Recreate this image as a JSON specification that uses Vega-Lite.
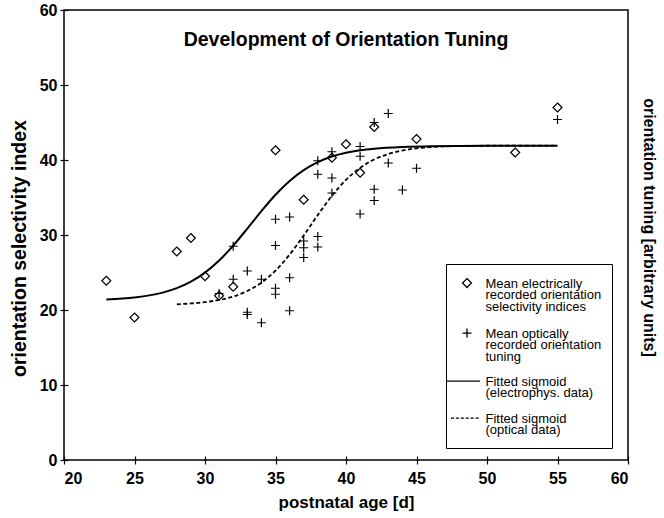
{
  "$schema": "https://vega.github.io/schema/vega-lite/v6.json",
  "width": 564,
  "height": 450,
  "autosize": {"type": "none"},
  "padding": {"left": 64, "top": 10, "right": 36, "bottom": 58},
  "background": "white",
  "title": {"text": "Development of Orientation Tuning", "font": "Liberation Sans", "fontSize": 19.5, "fontWeight": "bold", "color": "black", "anchor": "middle", "offset": -48},
  "datasets": {
    "points": [
      {"age": 23, "osi": 23.9, "series": "e"},
      {"age": 25, "osi": 19.0, "series": "e"},
      {"age": 28, "osi": 27.8, "series": "e"},
      {"age": 29, "osi": 29.6, "series": "e"},
      {"age": 30, "osi": 24.5, "series": "e"},
      {"age": 31, "osi": 21.9, "series": "e"},
      {"age": 32, "osi": 23.1, "series": "e"},
      {"age": 35, "osi": 41.3, "series": "e"},
      {"age": 37, "osi": 34.7, "series": "e"},
      {"age": 39, "osi": 40.3, "series": "e"},
      {"age": 40, "osi": 42.1, "series": "e"},
      {"age": 41, "osi": 38.3, "series": "e"},
      {"age": 42, "osi": 44.4, "series": "e"},
      {"age": 45, "osi": 42.8, "series": "e"},
      {"age": 52, "osi": 41.0, "series": "e"},
      {"age": 55, "osi": 47.0, "series": "e"},
      {"age": 31, "osi": 22.2, "series": "o"},
      {"age": 32, "osi": 28.5, "series": "o"},
      {"age": 32, "osi": 24.1, "series": "o"},
      {"age": 33, "osi": 25.2, "series": "o"},
      {"age": 33, "osi": 19.7, "series": "o"},
      {"age": 33, "osi": 19.4, "series": "o"},
      {"age": 34, "osi": 24.1, "series": "o"},
      {"age": 34, "osi": 18.3, "series": "o"},
      {"age": 35, "osi": 32.1, "series": "o"},
      {"age": 35, "osi": 28.6, "series": "o"},
      {"age": 35, "osi": 22.9, "series": "o"},
      {"age": 35, "osi": 22.1, "series": "o"},
      {"age": 36, "osi": 32.4, "series": "o"},
      {"age": 36, "osi": 24.3, "series": "o"},
      {"age": 36, "osi": 19.9, "series": "o"},
      {"age": 37, "osi": 29.2, "series": "o"},
      {"age": 37, "osi": 28.3, "series": "o"},
      {"age": 37, "osi": 27.0, "series": "o"},
      {"age": 38, "osi": 29.8, "series": "o"},
      {"age": 38, "osi": 28.4, "series": "o"},
      {"age": 38, "osi": 39.9, "series": "o"},
      {"age": 38, "osi": 38.1, "series": "o"},
      {"age": 39, "osi": 41.1, "series": "o"},
      {"age": 39, "osi": 37.6, "series": "o"},
      {"age": 39, "osi": 35.6, "series": "o"},
      {"age": 41, "osi": 41.8, "series": "o"},
      {"age": 41, "osi": 40.5, "series": "o"},
      {"age": 41, "osi": 32.8, "series": "o"},
      {"age": 42, "osi": 45.0, "series": "o"},
      {"age": 42, "osi": 36.1, "series": "o"},
      {"age": 42, "osi": 34.6, "series": "o"},
      {"age": 43, "osi": 46.2, "series": "o"},
      {"age": 43, "osi": 39.6, "series": "o"},
      {"age": 44, "osi": 36.0, "series": "o"},
      {"age": 45, "osi": 38.9, "series": "o"},
      {"age": 55, "osi": 45.4, "series": "o"}
    ],
    "fit_e": [
      {"age": 23, "osi": 21.39},
      {"age": 25, "osi": 21.67},
      {"age": 27, "osi": 22.32},
      {"age": 28, "osi": 22.91},
      {"age": 29, "osi": 23.77},
      {"age": 30, "osi": 24.98},
      {"age": 31, "osi": 26.59},
      {"age": 32, "osi": 28.59},
      {"age": 33, "osi": 30.85},
      {"age": 34, "osi": 33.18},
      {"age": 35, "osi": 35.36},
      {"age": 36, "osi": 37.21},
      {"age": 37, "osi": 38.65},
      {"age": 38, "osi": 39.72},
      {"age": 39, "osi": 40.46},
      {"age": 40, "osi": 40.96},
      {"age": 41, "osi": 41.3},
      {"age": 42, "osi": 41.51},
      {"age": 44, "osi": 41.74},
      {"age": 46, "osi": 41.84},
      {"age": 50, "osi": 41.89},
      {"age": 55, "osi": 41.9}
    ],
    "fit_o": [
      {"age": 28, "osi": 20.76},
      {"age": 29, "osi": 20.87},
      {"age": 30, "osi": 21.05},
      {"age": 31, "osi": 21.34},
      {"age": 32, "osi": 21.8},
      {"age": 33, "osi": 22.54},
      {"age": 34, "osi": 23.65},
      {"age": 35, "osi": 25.25},
      {"age": 36, "osi": 27.38},
      {"age": 37, "osi": 29.94},
      {"age": 38, "osi": 32.66},
      {"age": 39, "osi": 35.22},
      {"age": 40, "osi": 37.35},
      {"age": 41, "osi": 38.95},
      {"age": 42, "osi": 40.07},
      {"age": 43, "osi": 40.8},
      {"age": 44, "osi": 41.26},
      {"age": 45, "osi": 41.55},
      {"age": 46, "osi": 41.73},
      {"age": 48, "osi": 41.87},
      {"age": 50, "osi": 41.9},
      {"age": 55, "osi": 41.92}
    ]
  },
  "config": {
    "view": {"stroke": "black", "strokeWidth": 1.5},
    "style": {"guide-label": {"lineHeight": 11.7}},
    "axis": {
      "domain": false, "grid": false,
      "tickColor": "black", "tickWidth": 1.2,
      "labelColor": "black", "titleColor": "black",
      "labelFont": "Liberation Sans", "titleFont": "Liberation Sans",
      "labelFontWeight": "bold", "titleFontWeight": "bold",
      "labelFontSize": 16, "titleFontSize": 17
    }
  },
  "resolve": {"axis": {"y": "independent"}, "scale": {"shape": "independent"}},
  "layer": [
    {
      "data": {"name": "fit_e"},
      "mark": {"type": "line", "color": "black", "strokeWidth": 2, "interpolate": "monotone"},
      "encoding": {
        "x": {"field": "age", "type": "quantitative", "scale": {"domain": [20, 60], "nice": false},
          "axis": {"values": [20, 25, 30, 35, 40, 45, 50, 55, 60], "tickSize": 8, "offset": -4, "labelPadding": 6, "title": "postnatal age [d]", "titlePadding": 8}},
        "y": {"field": "osi", "type": "quantitative", "scale": {"domain": [0, 60], "nice": false},
          "axis": {"values": [0, 10, 20, 30, 40, 50, 60], "tickSize": 8, "offset": -4, "labelPadding": 3, "title": "orientation selectivity index", "titleFontSize": 19.5, "titlePadding": 10, "titleY": 238}}
      }
    },
    {
      "data": {"name": "fit_o"},
      "mark": {"type": "line", "color": "black", "strokeWidth": 1.8, "strokeDash": [4, 2.5], "interpolate": "monotone"},
      "encoding": {
        "x": {"field": "age", "type": "quantitative"},
        "y": {"field": "osi", "type": "quantitative", "axis": null}
      }
    },
    {
      "data": {"name": "points"},
      "mark": {"type": "point", "filled": false, "color": "black", "strokeWidth": 1.2, "size": 80, "opacity": 1},
      "encoding": {
        "x": {"field": "age", "type": "quantitative"},
        "y": {"field": "osi", "type": "quantitative",
          "axis": {"orient": "right", "labels": false, "ticks": false, "title": "orientation tuning [arbitrary units]", "titleAngle": 90, "titleFontSize": 16, "titlePadding": 12, "titleY": 217}},
        "shape": {"field": "series", "type": "nominal",
          "scale": {"domain": ["e", "o"], "range": ["M0,-1L1,0L0,1L-1,0Z", "M-1,0H1M0,-1V1"]},
          "legend": null}
      }
    },
    {
      "data": {"name": "points"},
      "transform": [{"filter": "datum.age > 100"}],
      "mark": {"type": "point", "filled": false, "color": "black", "strokeWidth": 1.2, "size": 80, "opacity": 1},
      "encoding": {
        "x": {"field": "age", "type": "quantitative"},
        "y": {"field": "osi", "type": "quantitative", "axis": null},
        "shape": {"field": "series", "type": "nominal",
          "scale": {"domain": ["e", "o", "fe", "fo"], "range": ["M0,-2L1,-1L0,0L-1,-1Z", "M-1,-1H1M0,-2V0", "M-4.7,-1H2.9", "M-3.6,-1H-2.9M-2.5,-1H-1.8M-1.4,-1H-0.7M-0.3,-1H0.4M0.8,-1H1.5M1.9,-1H2.6"]},
          "legend": {
            "orient": "none", "legendX": 382, "legendY": 254, "title": " ", "titleFontSize": 1, "titlePadding": 6, "direction": "vertical",
            "strokeColor": "black", "fillColor": "white", "padding": 10,
            "symbolSize": 80, "symbolStrokeColor": "black", "symbolStrokeWidth": 1.3, "symbolOffset": 4.5,
            "labelOffset": 12, "labelFont": "Liberation Sans", "labelFontSize": 13, "labelColor": "black",
            "labelBaseline": "alphabetic", "labelLimit": 300, "rowPadding": 11,
            "labelExpr": "datum.value == 'e' ? ['Mean electrically', 'recorded orientation', 'selectivity indices'] : datum.value == 'o' ? ['Mean optically', 'recorded orientation', 'tuning'] : datum.value == 'fe' ? ['Fitted sigmoid', '(electrophys. data)'] : ['Fitted sigmoid', '(optical data)']"
          }
        }
      }
    }
  ]
}
